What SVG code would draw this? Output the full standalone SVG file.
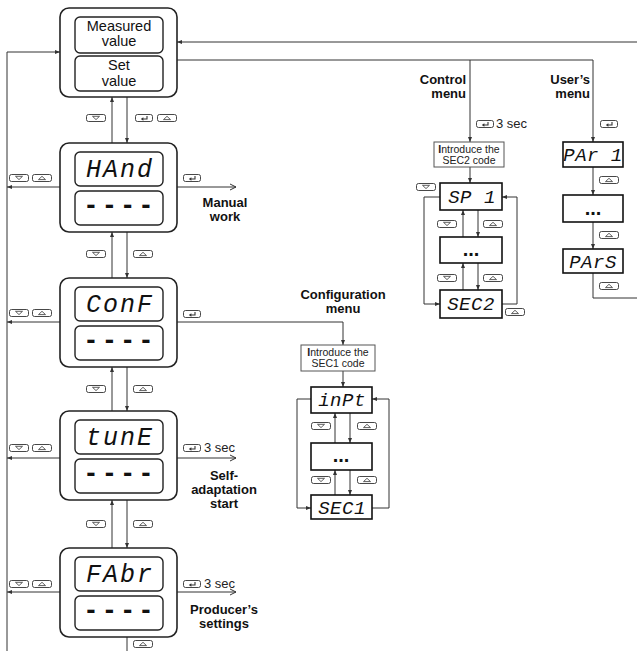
<svg xmlns="http://www.w3.org/2000/svg" xmlns:xlink="http://www.w3.org/1999/xlink" width="637" height="651" viewBox="0 0 637 651">
<style>
.ln{fill:none;stroke:#333;stroke-width:1}
.outer{fill:#fff;stroke:#222;stroke-width:1.6}
.disp{fill:#fff;stroke:#222;stroke-width:1.4}
.sdisp{fill:#fff;stroke:#111;stroke-width:1.6}
.intro{fill:#fff;stroke:#555;stroke-width:1}
.lbl{font-family:"Liberation Sans",Arial,sans-serif;font-size:14.5px;fill:#111;text-anchor:middle}
.bold{font-family:"Liberation Sans",Arial,sans-serif;font-size:13px;font-weight:bold;fill:#111}
.sec{font-family:"Liberation Sans",Arial,sans-serif;font-size:13px;fill:#222}
.itx{font-family:"Liberation Sans",Arial,sans-serif;font-size:10.5px;fill:#222;text-anchor:middle}
.seg{font-family:"Liberation Mono","DejaVu Sans Mono",monospace;font-style:italic;font-size:25px;fill:#111;text-anchor:middle;letter-spacing:2px}
.sseg{font-family:"Liberation Mono","DejaVu Sans Mono",monospace;font-style:italic;font-size:19px;fill:#111;text-anchor:middle;letter-spacing:0.5px}
.dash{font-family:"Liberation Sans",Arial,sans-serif;font-weight:bold;font-size:28px;fill:#111;text-anchor:middle;letter-spacing:9px}
.dots{font-family:"Liberation Sans",Arial,sans-serif;font-weight:bold;font-size:20px;fill:#111;text-anchor:middle}
.bx{fill:#fff;stroke:#333;stroke-width:0.9}
.ic{fill:none;stroke:#333;stroke-width:0.8}
</style>
<defs>
<marker id="ah" markerWidth="6" markerHeight="6" refX="5" refY="3" orient="auto" markerUnits="userSpaceOnUse"><path d="M0,1 L5,3 L0,5 z" fill="#333"/></marker>
<marker id="ch" markerWidth="8" markerHeight="8" refX="7" refY="4" orient="auto" markerUnits="userSpaceOnUse"><path d="M1,1 L7,4 L1,7" fill="none" stroke="#333" stroke-width="1"/></marker>
<g id="bDown"><rect class="bx" x="0.5" y="0.5" width="19" height="7" rx="2"/><polygon class="ic" points="6.5,2.3 13.5,2.3 10,5.6"/></g>
<g id="bUp"><rect class="bx" x="0.5" y="0.5" width="19" height="7" rx="2"/><polygon class="ic" points="6.5,5.6 13.5,5.6 10,2.3"/></g>
<g id="bEnt"><rect class="bx" x="0.5" y="0.5" width="17" height="7" rx="2"/><path d="M12,2 V5 H7.5" fill="none" stroke="#333" stroke-width="1.1"/><polygon points="5.8,5 8.4,3.3 8.4,6.7" fill="#333"/></g>
</defs>

<g id="connectors">
<path class="ln" d="M7,651 V52 H60" marker-end="url(#ah)"/>
<path class="ln" d="M60,187 H7" marker-end="url(#ah)"/>
<path class="ln" d="M60,322 H7" marker-end="url(#ah)"/>
<path class="ln" d="M60,458 H7" marker-end="url(#ah)"/>
<path class="ln" d="M60,592 H7" marker-end="url(#ah)"/>
<path class="ln" d="M637,42 H177" marker-end="url(#ah)"/>
<path class="ln" d="M177,60 H593 V142" marker-end="url(#ah)"/>
<path class="ln" d="M470,60 V142" marker-end="url(#ah)"/>
<path class="ln" d="M112,143 V97" marker-end="url(#ah)"/>
<path class="ln" d="M127,97 V143" marker-end="url(#ah)"/>
<path class="ln" d="M112,278 V232" marker-end="url(#ah)"/>
<path class="ln" d="M127,232 V278" marker-end="url(#ah)"/>
<path class="ln" d="M112,411 V367" marker-end="url(#ah)"/>
<path class="ln" d="M127,367 V411" marker-end="url(#ah)"/>
<path class="ln" d="M112,548 V500" marker-end="url(#ah)"/>
<path class="ln" d="M127,500 V548" marker-end="url(#ah)"/>
<path class="ln" d="M127,637 V651"/>
<path class="ln" d="M177,187 H236" marker-end="url(#ch)"/>
<path class="ln" d="M177,458 H236" marker-end="url(#ch)"/>
<path class="ln" d="M177,592 H236" marker-end="url(#ch)"/>
<path class="ln" d="M177,322 H343 V345" marker-end="url(#ah)"/>
<path class="ln" d="M343,371 V387" marker-end="url(#ah)"/>
<path class="ln" d="M335,443 V413" marker-end="url(#ah)"/>
<path class="ln" d="M350,413 V443" marker-end="url(#ah)"/>
<path class="ln" d="M335,495 V470" marker-end="url(#ah)"/>
<path class="ln" d="M350,470 V495" marker-end="url(#ah)"/>
<path class="ln" d="M311,399 H297 V508 H311" marker-end="url(#ah)"/>
<path class="ln" d="M372,508 H389 V399 H372" marker-end="url(#ah)"/>
<path class="ln" d="M470,167 V183" marker-end="url(#ah)"/>
<path class="ln" d="M463,237 V210" marker-end="url(#ah)"/>
<path class="ln" d="M478,210 V237" marker-end="url(#ah)"/>
<path class="ln" d="M463,290 V263" marker-end="url(#ah)"/>
<path class="ln" d="M478,263 V290" marker-end="url(#ah)"/>
<path class="ln" d="M440,197 H424 V304 H440" marker-end="url(#ah)"/>
<path class="ln" d="M502,304 H517 V197 H502" marker-end="url(#ah)"/>
<path class="ln" d="M593,167 V195" marker-end="url(#ah)"/>
<path class="ln" d="M593,222 V249" marker-end="url(#ah)"/>
<path class="ln" d="M593,273 V298 H637"/>
</g>

<g id="buttons">
<use xlink:href="#bDown" x="86" y="114"/>
<use xlink:href="#bEnt" x="135" y="114"/>
<use xlink:href="#bUp" x="157" y="114"/>
<use xlink:href="#bDown" x="86" y="250"/>
<use xlink:href="#bUp" x="133" y="250"/>
<use xlink:href="#bDown" x="86" y="385"/>
<use xlink:href="#bUp" x="133" y="385"/>
<use xlink:href="#bDown" x="86" y="520"/>
<use xlink:href="#bUp" x="133" y="520"/>
<use xlink:href="#bUp" x="133" y="640"/>
<use xlink:href="#bDown" x="9" y="174"/>
<use xlink:href="#bUp" x="32" y="174"/>
<use xlink:href="#bDown" x="9" y="309"/>
<use xlink:href="#bUp" x="32" y="309"/>
<use xlink:href="#bDown" x="9" y="444"/>
<use xlink:href="#bUp" x="32" y="444"/>
<use xlink:href="#bDown" x="9" y="580"/>
<use xlink:href="#bUp" x="32" y="580"/>
<use xlink:href="#bEnt" x="183" y="174"/>
<use xlink:href="#bEnt" x="183" y="310"/>
<use xlink:href="#bEnt" x="183" y="444"/>
<use xlink:href="#bEnt" x="183" y="580"/>
<use xlink:href="#bEnt" x="476" y="120"/>
<use xlink:href="#bDown" x="416" y="183"/>
<use xlink:href="#bDown" x="437" y="220"/>
<use xlink:href="#bUp" x="483" y="220"/>
<use xlink:href="#bDown" x="437" y="274"/>
<use xlink:href="#bUp" x="483" y="274"/>
<use xlink:href="#bUp" x="505" y="308"/>
<use xlink:href="#bEnt" x="600" y="120"/>
<use xlink:href="#bUp" x="599" y="176"/>
<use xlink:href="#bUp" x="599" y="231"/>
<use xlink:href="#bUp" x="599" y="282"/>
<use xlink:href="#bDown" x="311" y="422"/>
<use xlink:href="#bUp" x="357" y="422"/>
<use xlink:href="#bDown" x="311" y="476"/>
<use xlink:href="#bUp" x="357" y="476"/>
</g>

<g id="display-main">
<rect class="outer" x="60" y="8" width="117" height="89" rx="9"/>
<rect class="disp" x="75" y="17" width="88" height="36" rx="5"/>
<rect class="disp" x="75" y="56" width="88" height="35" rx="5"/>
<text class="lbl" x="119" y="31">Measured</text>
<text class="lbl" x="119" y="46">value</text>
<text class="lbl" x="119" y="70">Set</text>
<text class="lbl" x="119" y="86">value</text>
</g>

<g id="node-hand">
<rect class="outer" x="60" y="143" width="117" height="89" rx="9"/>
<rect class="disp" x="75" y="152" width="88" height="34" rx="5"/>
<rect class="disp" x="75" y="191" width="88" height="34" rx="5"/>
<text class="seg" x="120" y="177">HAnd</text>
<text class="dash" x="123" y="214">----</text>
</g>

<g id="node-conf">
<rect class="outer" x="60" y="278" width="117" height="89" rx="9"/>
<rect class="disp" x="75" y="287" width="88" height="34" rx="5"/>
<rect class="disp" x="75" y="326" width="88" height="34" rx="5"/>
<text class="seg" x="120" y="312">ConF</text>
<text class="dash" x="123" y="349">----</text>
</g>

<g id="node-tune">
<rect class="outer" x="60" y="411" width="117" height="89" rx="9"/>
<rect class="disp" x="75" y="420" width="88" height="34" rx="5"/>
<rect class="disp" x="75" y="459" width="88" height="34" rx="5"/>
<text class="seg" x="120" y="445">tunE</text>
<text class="dash" x="123" y="482">----</text>
</g>

<g id="node-fabr">
<rect class="outer" x="60" y="548" width="117" height="89" rx="9"/>
<rect class="disp" x="75" y="557" width="88" height="34" rx="5"/>
<rect class="disp" x="75" y="596" width="88" height="34" rx="5"/>
<text class="seg" x="120" y="582">FAbr</text>
<text class="dash" x="123" y="619">----</text>
</g>

<g id="side-labels">
<text class="bold" x="225" y="207" text-anchor="middle">Manual</text>
<text class="bold" x="225" y="221" text-anchor="middle">work</text>
<text class="sec" x="204" y="452">3 sec</text>
<text class="bold" x="224" y="480" text-anchor="middle">Self-</text>
<text class="bold" x="224" y="494" text-anchor="middle">adaptation</text>
<text class="bold" x="224" y="508" text-anchor="middle">start</text>
<text class="sec" x="204" y="588">3 sec</text>
<text class="bold" x="224" y="614" text-anchor="middle">Producer’s</text>
<text class="bold" x="224" y="628" text-anchor="middle">settings</text>
<text class="bold" x="466" y="84" text-anchor="end">Control</text>
<text class="bold" x="466" y="98" text-anchor="end">menu</text>
<text class="bold" x="590" y="84" text-anchor="end">User’s</text>
<text class="bold" x="590" y="98" text-anchor="end">menu</text>
<text class="sec" x="496" y="128">3 sec</text>
<text class="bold" x="343" y="299" text-anchor="middle">Configuration</text>
<text class="bold" x="343" y="313" text-anchor="middle">menu</text>
</g>

<g id="node-intro-sec2">
<rect class="intro" x="434" y="142" width="70" height="25"/>
<text class="itx" x="469" y="153"><tspan font-weight="bold">I</tspan>ntroduce the</text>
<text class="itx" x="469" y="164">SEC2 code</text>
</g>
<g id="node-sp1"><rect class="sdisp" x="440" y="183" width="62" height="27"/><text class="sseg" x="472" y="203">SP 1</text></g>
<g id="node-cdots"><rect class="sdisp" x="440" y="237" width="62" height="26"/><text class="dots" x="471" y="256">...</text></g>
<g id="node-sec2"><rect class="sdisp" x="440" y="290" width="62" height="28"/><text class="sseg" x="471" y="310">SEC2</text></g>

<g id="node-par1"><rect class="sdisp" x="563" y="142" width="60" height="25"/><text class="sseg" x="593" y="161">PAr 1</text></g>
<g id="node-udots"><rect class="sdisp" x="563" y="195" width="60" height="27"/><text class="dots" x="593" y="215">...</text></g>
<g id="node-pars"><rect class="sdisp" x="563" y="249" width="60" height="24"/><text class="sseg" x="593" y="268">PArS</text></g>

<g id="node-intro-sec1">
<rect class="intro" x="301" y="345" width="74" height="26"/>
<text class="itx" x="338" y="356"><tspan font-weight="bold">I</tspan>ntroduce the</text>
<text class="itx" x="338" y="367">SEC1 code</text>
</g>
<g id="node-inpt"><rect class="sdisp" x="311" y="387" width="61" height="26"/><text class="sseg" x="342" y="406">inPt</text></g>
<g id="node-fdots"><rect class="sdisp" x="311" y="443" width="61" height="27"/><text class="dots" x="341" y="462">...</text></g>
<g id="node-sec1"><rect class="sdisp" x="311" y="495" width="61" height="24"/><text class="sseg" x="342" y="514">SEC1</text></g>
</svg>
